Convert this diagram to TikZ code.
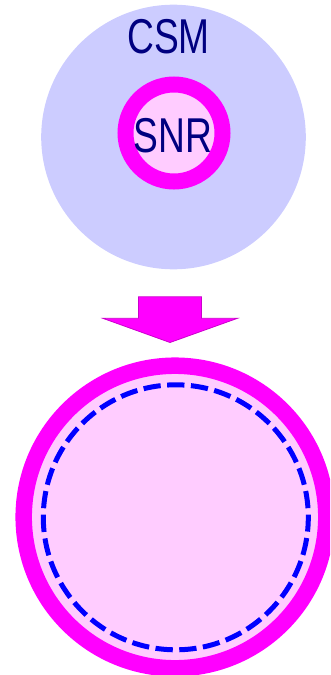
\documentclass[tikz,border=0pt]{standalone}
\usepackage{fontspec}
\newfontfamily\narrowfont[FakeStretch=0.76]{Liberation Sans}
\definecolor{lav}{HTML}{CCCCFF}
\definecolor{pinkfill}{HTML}{FFCCFF}
\definecolor{mag}{HTML}{FF00FF}
\definecolor{magedge}{HTML}{CC00CC}
\definecolor{navytext}{HTML}{000080}
\definecolor{dashblue}{HTML}{0000FF}
\tikzset{
  label text/.style={text=navytext, font=\narrowfont\fontsize{48.9}{50}\selectfont, inner sep=0pt, anchor=base},
  ring/.style={draw=mag, fill=pinkfill},
}
\begin{document}
\begin{tikzpicture}[x=1pt,y=-1pt]
\useasboundingbox (0,0) rectangle (330,675);
\clip (0,0) rectangle (330,675);
% top: CSM with SNR
\fill[lav] (173.5,137) circle[radius=132.3];
\draw[ring, line width=16] (174,133) circle[radius=48.5];
\node[label text] (csm) at (168.5,53) {CSM};
\node[label text] (snr) at (173,152) {SNR};
% arrow
\filldraw[fill=mag, draw=magedge, line width=0.8, line join=miter]
  (138.5,296.8) -- (201.5,296.8) -- (201.5,318.3) -- (237.5,318.3)
  -- (170,342.5) -- (102.8,318.3) -- (138.5,318.3) -- cycle;
% bottom circle
\draw[ring, line width=16.5] (175,517) circle[radius=151.3];
\draw[dashblue, line width=5, dash pattern=on 17.3 off 6.5, dash phase=3] (175.8,517.3) circle[radius=132.5];
\end{tikzpicture}
\end{document}
